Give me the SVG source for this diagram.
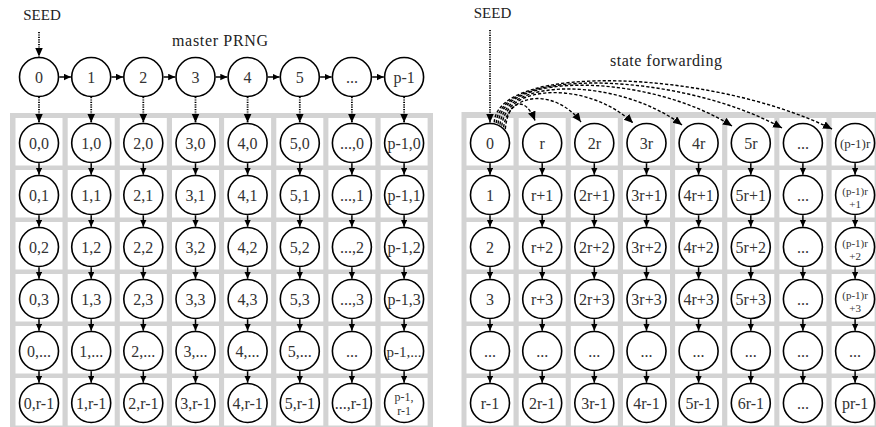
<svg xmlns="http://www.w3.org/2000/svg" width="876" height="427" viewBox="0 0 876 427">
<defs>
<style>
.bg{fill:#d3d3d3}
.cell{fill:#fff}
.n circle{fill:#fff;stroke:#000;stroke-width:1.6}
.n text,.lbl{font-family:"Liberation Serif","DejaVu Serif",serif;font-size:16px;fill:#333;text-anchor:middle}
.n text.s12{font-size:12px}
.n text.s13{font-size:13px}
.n text.s11{font-size:11px}
.lbl{fill:#222}
.sol{stroke:#000;stroke-width:1.5;fill:none;marker-end:url(#as)}
.dot{stroke:#000;stroke-width:1.8;fill:none;stroke-dasharray:1.2 1.2;marker-end:url(#ab)}
.dsh{stroke:#000;stroke-width:1.4;fill:none;stroke-dasharray:3.2 2;marker-end:url(#ab)}
</style>
<marker id="as" markerUnits="userSpaceOnUse" markerWidth="8" markerHeight="8" refX="7" refY="3.25" orient="auto"><path d="M0,0 L7,3.25 L0,6.5 z" fill="#000"/></marker>
<marker id="ab" markerUnits="userSpaceOnUse" markerWidth="10" markerHeight="10" refX="9" refY="4" orient="auto"><path d="M0,0 L9,4 L0,8 z" fill="#000"/></marker>
</defs>
<rect width="876" height="427" fill="#fff"/>
<g id="grids">
<rect class="bg" x="10" y="113" width="423" height="314"/>
<rect class="bg" x="461.5" y="112" width="414.5" height="315"/>
<g id="cellsL">
<rect class="cell" x="15.5" y="118" width="47" height="47.5"/><rect class="cell" x="67.7" y="118" width="47" height="47.5"/><rect class="cell" x="119.8" y="118" width="47" height="47.5"/><rect class="cell" x="172" y="118" width="47" height="47.5"/><rect class="cell" x="224.1" y="118" width="47" height="47.5"/><rect class="cell" x="276.3" y="118" width="47" height="47.5"/><rect class="cell" x="328.4" y="118" width="47" height="47.5"/><rect class="cell" x="380.6" y="118" width="47" height="47.5"/>
<rect class="cell" x="15.5" y="170" width="47" height="47.5"/><rect class="cell" x="67.7" y="170" width="47" height="47.5"/><rect class="cell" x="119.8" y="170" width="47" height="47.5"/><rect class="cell" x="172" y="170" width="47" height="47.5"/><rect class="cell" x="224.1" y="170" width="47" height="47.5"/><rect class="cell" x="276.3" y="170" width="47" height="47.5"/><rect class="cell" x="328.4" y="170" width="47" height="47.5"/><rect class="cell" x="380.6" y="170" width="47" height="47.5"/>
<rect class="cell" x="15.5" y="222" width="47" height="47.5"/><rect class="cell" x="67.7" y="222" width="47" height="47.5"/><rect class="cell" x="119.8" y="222" width="47" height="47.5"/><rect class="cell" x="172" y="222" width="47" height="47.5"/><rect class="cell" x="224.1" y="222" width="47" height="47.5"/><rect class="cell" x="276.3" y="222" width="47" height="47.5"/><rect class="cell" x="328.4" y="222" width="47" height="47.5"/><rect class="cell" x="380.6" y="222" width="47" height="47.5"/>
<rect class="cell" x="15.5" y="274" width="47" height="47.5"/><rect class="cell" x="67.7" y="274" width="47" height="47.5"/><rect class="cell" x="119.8" y="274" width="47" height="47.5"/><rect class="cell" x="172" y="274" width="47" height="47.5"/><rect class="cell" x="224.1" y="274" width="47" height="47.5"/><rect class="cell" x="276.3" y="274" width="47" height="47.5"/><rect class="cell" x="328.4" y="274" width="47" height="47.5"/><rect class="cell" x="380.6" y="274" width="47" height="47.5"/>
<rect class="cell" x="15.5" y="326" width="47" height="47.5"/><rect class="cell" x="67.7" y="326" width="47" height="47.5"/><rect class="cell" x="119.8" y="326" width="47" height="47.5"/><rect class="cell" x="172" y="326" width="47" height="47.5"/><rect class="cell" x="224.1" y="326" width="47" height="47.5"/><rect class="cell" x="276.3" y="326" width="47" height="47.5"/><rect class="cell" x="328.4" y="326" width="47" height="47.5"/><rect class="cell" x="380.6" y="326" width="47" height="47.5"/>
<rect class="cell" x="15.5" y="378" width="47" height="47.5"/><rect class="cell" x="67.7" y="378" width="47" height="47.5"/><rect class="cell" x="119.8" y="378" width="47" height="47.5"/><rect class="cell" x="172" y="378" width="47" height="47.5"/><rect class="cell" x="224.1" y="378" width="47" height="47.5"/><rect class="cell" x="276.3" y="378" width="47" height="47.5"/><rect class="cell" x="328.4" y="378" width="47" height="47.5"/><rect class="cell" x="380.6" y="378" width="47" height="47.5"/>
</g>
<g id="cellsR">
<rect class="cell" x="466.5" y="118" width="47" height="47.5"/><rect class="cell" x="518.7" y="118" width="47" height="47.5"/><rect class="cell" x="570.8" y="118" width="47" height="47.5"/><rect class="cell" x="623" y="118" width="47" height="47.5"/><rect class="cell" x="675.1" y="118" width="47" height="47.5"/><rect class="cell" x="727.3" y="118" width="47" height="47.5"/><rect class="cell" x="779.4" y="118" width="47" height="47.5"/><rect class="cell" x="831.6" y="118" width="43" height="47.5"/>
<rect class="cell" x="466.5" y="170" width="47" height="47.5"/><rect class="cell" x="518.7" y="170" width="47" height="47.5"/><rect class="cell" x="570.8" y="170" width="47" height="47.5"/><rect class="cell" x="623" y="170" width="47" height="47.5"/><rect class="cell" x="675.1" y="170" width="47" height="47.5"/><rect class="cell" x="727.3" y="170" width="47" height="47.5"/><rect class="cell" x="779.4" y="170" width="47" height="47.5"/><rect class="cell" x="831.6" y="170" width="43" height="47.5"/>
<rect class="cell" x="466.5" y="222" width="47" height="47.5"/><rect class="cell" x="518.7" y="222" width="47" height="47.5"/><rect class="cell" x="570.8" y="222" width="47" height="47.5"/><rect class="cell" x="623" y="222" width="47" height="47.5"/><rect class="cell" x="675.1" y="222" width="47" height="47.5"/><rect class="cell" x="727.3" y="222" width="47" height="47.5"/><rect class="cell" x="779.4" y="222" width="47" height="47.5"/><rect class="cell" x="831.6" y="222" width="43" height="47.5"/>
<rect class="cell" x="466.5" y="274" width="47" height="47.5"/><rect class="cell" x="518.7" y="274" width="47" height="47.5"/><rect class="cell" x="570.8" y="274" width="47" height="47.5"/><rect class="cell" x="623" y="274" width="47" height="47.5"/><rect class="cell" x="675.1" y="274" width="47" height="47.5"/><rect class="cell" x="727.3" y="274" width="47" height="47.5"/><rect class="cell" x="779.4" y="274" width="47" height="47.5"/><rect class="cell" x="831.6" y="274" width="43" height="47.5"/>
<rect class="cell" x="466.5" y="326" width="47" height="47.5"/><rect class="cell" x="518.7" y="326" width="47" height="47.5"/><rect class="cell" x="570.8" y="326" width="47" height="47.5"/><rect class="cell" x="623" y="326" width="47" height="47.5"/><rect class="cell" x="675.1" y="326" width="47" height="47.5"/><rect class="cell" x="727.3" y="326" width="47" height="47.5"/><rect class="cell" x="779.4" y="326" width="47" height="47.5"/><rect class="cell" x="831.6" y="326" width="43" height="47.5"/>
<rect class="cell" x="466.5" y="378" width="47" height="47.5"/><rect class="cell" x="518.7" y="378" width="47" height="47.5"/><rect class="cell" x="570.8" y="378" width="47" height="47.5"/><rect class="cell" x="623" y="378" width="47" height="47.5"/><rect class="cell" x="675.1" y="378" width="47" height="47.5"/><rect class="cell" x="727.3" y="378" width="47" height="47.5"/><rect class="cell" x="779.4" y="378" width="47" height="47.5"/><rect class="cell" x="831.6" y="378" width="43" height="47.5"/>
</g>
</g>
<g id="labels">
<text class="lbl" x="42" y="20" style="font-size:15px">SEED</text>
<text class="lbl" x="492.5" y="18" style="font-size:15px">SEED</text>
<text class="lbl" x="220" y="46" textLength="96" lengthAdjust="spacing">master PRNG</text>
<text class="lbl" x="666" y="66" textLength="112" lengthAdjust="spacing">state forwarding</text>
</g>
<g id="connectors">
<line class="dot" x1="39" y1="32" x2="39" y2="56.5"/>
<line class="dot" x1="490" y1="30" x2="490" y2="122.5"/>
<line class="sol" x1="59.3" y1="77" x2="70.9" y2="77"/><line class="sol" x1="111.5" y1="77" x2="123" y2="77"/><line class="sol" x1="163.6" y1="77" x2="175.2" y2="77"/><line class="sol" x1="215.8" y1="77" x2="227.3" y2="77"/><line class="sol" x1="267.9" y1="77" x2="279.5" y2="77"/><line class="sol" x1="320.1" y1="77" x2="331.6" y2="77"/><line class="sol" x1="372.2" y1="77" x2="383.8" y2="77"/>
<line class="dot" x1="39" y1="97" x2="39" y2="122.5"/><line class="dot" x1="91.2" y1="97" x2="91.2" y2="122.5"/><line class="dot" x1="143.3" y1="97" x2="143.3" y2="122.5"/><line class="dot" x1="195.5" y1="97" x2="195.5" y2="122.5"/><line class="dot" x1="247.6" y1="97" x2="247.6" y2="122.5"/><line class="dot" x1="299.8" y1="97" x2="299.8" y2="122.5"/><line class="dot" x1="351.9" y1="97" x2="351.9" y2="122.5"/><line class="dot" x1="404.1" y1="97" x2="404.1" y2="122.5"/>
<g id="vertL">
<line class="sol" x1="39" y1="163.3" x2="39" y2="174.7"/><line class="sol" x1="39" y1="215.3" x2="39" y2="226.7"/><line class="sol" x1="39" y1="267.3" x2="39" y2="278.7"/><line class="sol" x1="39" y1="319.3" x2="39" y2="330.7"/><line class="sol" x1="39" y1="371.3" x2="39" y2="382.7"/>
<line class="sol" x1="91.2" y1="163.3" x2="91.2" y2="174.7"/><line class="sol" x1="91.2" y1="215.3" x2="91.2" y2="226.7"/><line class="sol" x1="91.2" y1="267.3" x2="91.2" y2="278.7"/><line class="sol" x1="91.2" y1="319.3" x2="91.2" y2="330.7"/><line class="sol" x1="91.2" y1="371.3" x2="91.2" y2="382.7"/>
<line class="sol" x1="143.3" y1="163.3" x2="143.3" y2="174.7"/><line class="sol" x1="143.3" y1="215.3" x2="143.3" y2="226.7"/><line class="sol" x1="143.3" y1="267.3" x2="143.3" y2="278.7"/><line class="sol" x1="143.3" y1="319.3" x2="143.3" y2="330.7"/><line class="sol" x1="143.3" y1="371.3" x2="143.3" y2="382.7"/>
<line class="sol" x1="195.5" y1="163.3" x2="195.5" y2="174.7"/><line class="sol" x1="195.5" y1="215.3" x2="195.5" y2="226.7"/><line class="sol" x1="195.5" y1="267.3" x2="195.5" y2="278.7"/><line class="sol" x1="195.5" y1="319.3" x2="195.5" y2="330.7"/><line class="sol" x1="195.5" y1="371.3" x2="195.5" y2="382.7"/>
<line class="sol" x1="247.6" y1="163.3" x2="247.6" y2="174.7"/><line class="sol" x1="247.6" y1="215.3" x2="247.6" y2="226.7"/><line class="sol" x1="247.6" y1="267.3" x2="247.6" y2="278.7"/><line class="sol" x1="247.6" y1="319.3" x2="247.6" y2="330.7"/><line class="sol" x1="247.6" y1="371.3" x2="247.6" y2="382.7"/>
<line class="sol" x1="299.8" y1="163.3" x2="299.8" y2="174.7"/><line class="sol" x1="299.8" y1="215.3" x2="299.8" y2="226.7"/><line class="sol" x1="299.8" y1="267.3" x2="299.8" y2="278.7"/><line class="sol" x1="299.8" y1="319.3" x2="299.8" y2="330.7"/><line class="sol" x1="299.8" y1="371.3" x2="299.8" y2="382.7"/>
<line class="sol" x1="351.9" y1="163.3" x2="351.9" y2="174.7"/><line class="sol" x1="351.9" y1="215.3" x2="351.9" y2="226.7"/><line class="sol" x1="351.9" y1="267.3" x2="351.9" y2="278.7"/><line class="sol" x1="351.9" y1="319.3" x2="351.9" y2="330.7"/><line class="sol" x1="351.9" y1="371.3" x2="351.9" y2="382.7"/>
<line class="sol" x1="404.1" y1="163.3" x2="404.1" y2="174.7"/><line class="sol" x1="404.1" y1="215.3" x2="404.1" y2="226.7"/><line class="sol" x1="404.1" y1="267.3" x2="404.1" y2="278.7"/><line class="sol" x1="404.1" y1="319.3" x2="404.1" y2="330.7"/><line class="sol" x1="404.1" y1="371.3" x2="404.1" y2="382.7"/>
</g>
<g id="vertR">
<line class="sol" x1="490" y1="163.3" x2="490" y2="174.7"/><line class="sol" x1="490" y1="215.3" x2="490" y2="226.7"/><line class="sol" x1="490" y1="267.3" x2="490" y2="278.7"/><line class="sol" x1="490" y1="319.3" x2="490" y2="330.7"/><line class="sol" x1="490" y1="371.3" x2="490" y2="382.7"/>
<line class="sol" x1="542.2" y1="163.3" x2="542.2" y2="174.7"/><line class="sol" x1="542.2" y1="215.3" x2="542.2" y2="226.7"/><line class="sol" x1="542.2" y1="267.3" x2="542.2" y2="278.7"/><line class="sol" x1="542.2" y1="319.3" x2="542.2" y2="330.7"/><line class="sol" x1="542.2" y1="371.3" x2="542.2" y2="382.7"/>
<line class="sol" x1="594.3" y1="163.3" x2="594.3" y2="174.7"/><line class="sol" x1="594.3" y1="215.3" x2="594.3" y2="226.7"/><line class="sol" x1="594.3" y1="267.3" x2="594.3" y2="278.7"/><line class="sol" x1="594.3" y1="319.3" x2="594.3" y2="330.7"/><line class="sol" x1="594.3" y1="371.3" x2="594.3" y2="382.7"/>
<line class="sol" x1="646.5" y1="163.3" x2="646.5" y2="174.7"/><line class="sol" x1="646.5" y1="215.3" x2="646.5" y2="226.7"/><line class="sol" x1="646.5" y1="267.3" x2="646.5" y2="278.7"/><line class="sol" x1="646.5" y1="319.3" x2="646.5" y2="330.7"/><line class="sol" x1="646.5" y1="371.3" x2="646.5" y2="382.7"/>
<line class="sol" x1="698.6" y1="163.3" x2="698.6" y2="174.7"/><line class="sol" x1="698.6" y1="215.3" x2="698.6" y2="226.7"/><line class="sol" x1="698.6" y1="267.3" x2="698.6" y2="278.7"/><line class="sol" x1="698.6" y1="319.3" x2="698.6" y2="330.7"/><line class="sol" x1="698.6" y1="371.3" x2="698.6" y2="382.7"/>
<line class="sol" x1="750.8" y1="163.3" x2="750.8" y2="174.7"/><line class="sol" x1="750.8" y1="215.3" x2="750.8" y2="226.7"/><line class="sol" x1="750.8" y1="267.3" x2="750.8" y2="278.7"/><line class="sol" x1="750.8" y1="319.3" x2="750.8" y2="330.7"/><line class="sol" x1="750.8" y1="371.3" x2="750.8" y2="382.7"/>
<line class="sol" x1="802.9" y1="163.3" x2="802.9" y2="174.7"/><line class="sol" x1="802.9" y1="215.3" x2="802.9" y2="226.7"/><line class="sol" x1="802.9" y1="267.3" x2="802.9" y2="278.7"/><line class="sol" x1="802.9" y1="319.3" x2="802.9" y2="330.7"/><line class="sol" x1="802.9" y1="371.3" x2="802.9" y2="382.7"/>
<line class="sol" x1="855.1" y1="163.3" x2="855.1" y2="174.7"/><line class="sol" x1="855.1" y1="215.3" x2="855.1" y2="226.7"/><line class="sol" x1="855.1" y1="267.3" x2="855.1" y2="278.7"/><line class="sol" x1="855.1" y1="319.3" x2="855.1" y2="330.7"/><line class="sol" x1="855.1" y1="371.3" x2="855.1" y2="382.7"/>
</g>
<g id="forward">
<path class="dsh" d="M505.3,129.1 C508,100 525,95 535,120.5"/>
<path class="dsh" d="M503.6,127.4 C508,92 555,88 581,122"/>
<path class="dsh" d="M501.8,125.8 C506,82 590,82 633,123"/>
<path class="dsh" d="M500,124.7 C504,76 620,78 682,125"/>
<path class="dsh" d="M498.1,123.7 C502,70 650,74 732,126"/>
<path class="dsh" d="M496.2,123 C500,66 680,72 782,128"/>
<path class="dsh" d="M494.2,122.4 C498,62 712,70 832,129"/>
</g>
</g>
<g id="master">
<g id="m0" class="n"><circle cx="39" cy="77" r="19.5"/><text x="39" y="82.5">0</text></g>
<g id="m1" class="n"><circle cx="91.2" cy="77" r="19.5"/><text x="91.2" y="82.5">1</text></g>
<g id="m2" class="n"><circle cx="143.3" cy="77" r="19.5"/><text x="143.3" y="82.5">2</text></g>
<g id="m3" class="n"><circle cx="195.5" cy="77" r="19.5"/><text x="195.5" y="82.5">3</text></g>
<g id="m4" class="n"><circle cx="247.6" cy="77" r="19.5"/><text x="247.6" y="82.5">4</text></g>
<g id="m5" class="n"><circle cx="299.8" cy="77" r="19.5"/><text x="299.8" y="82.5">5</text></g>
<g id="m6" class="n"><circle cx="351.9" cy="77" r="19.5"/><text x="351.9" y="82.5">...</text></g>
<g id="m7" class="n"><circle cx="404.1" cy="77" r="19.5"/><text x="404.1" y="82.5">p-1</text></g>
</g>
<g id="left">
<g id="L0_0" class="n"><circle cx="39" cy="143" r="19.5"/><text x="39" y="148.5">0,0</text></g>
<g id="L1_0" class="n"><circle cx="91.2" cy="143" r="19.5"/><text x="91.2" y="148.5">1,0</text></g>
<g id="L2_0" class="n"><circle cx="143.3" cy="143" r="19.5"/><text x="143.3" y="148.5">2,0</text></g>
<g id="L3_0" class="n"><circle cx="195.5" cy="143" r="19.5"/><text x="195.5" y="148.5">3,0</text></g>
<g id="L4_0" class="n"><circle cx="247.6" cy="143" r="19.5"/><text x="247.6" y="148.5">4,0</text></g>
<g id="L5_0" class="n"><circle cx="299.8" cy="143" r="19.5"/><text x="299.8" y="148.5">5,0</text></g>
<g id="L6_0" class="n"><circle cx="351.9" cy="143" r="19.5"/><text x="351.9" y="148.5">...,0</text></g>
<g id="L7_0" class="n"><circle cx="404.1" cy="143" r="19.5"/><text x="404.1" y="148.5">p-1,0</text></g>
<g id="L0_1" class="n"><circle cx="39" cy="195" r="19.5"/><text x="39" y="200.5">0,1</text></g>
<g id="L1_1" class="n"><circle cx="91.2" cy="195" r="19.5"/><text x="91.2" y="200.5">1,1</text></g>
<g id="L2_1" class="n"><circle cx="143.3" cy="195" r="19.5"/><text x="143.3" y="200.5">2,1</text></g>
<g id="L3_1" class="n"><circle cx="195.5" cy="195" r="19.5"/><text x="195.5" y="200.5">3,1</text></g>
<g id="L4_1" class="n"><circle cx="247.6" cy="195" r="19.5"/><text x="247.6" y="200.5">4,1</text></g>
<g id="L5_1" class="n"><circle cx="299.8" cy="195" r="19.5"/><text x="299.8" y="200.5">5,1</text></g>
<g id="L6_1" class="n"><circle cx="351.9" cy="195" r="19.5"/><text x="351.9" y="200.5">...,1</text></g>
<g id="L7_1" class="n"><circle cx="404.1" cy="195" r="19.5"/><text x="404.1" y="200.5">p-1,1</text></g>
<g id="L0_2" class="n"><circle cx="39" cy="247" r="19.5"/><text x="39" y="252.5">0,2</text></g>
<g id="L1_2" class="n"><circle cx="91.2" cy="247" r="19.5"/><text x="91.2" y="252.5">1,2</text></g>
<g id="L2_2" class="n"><circle cx="143.3" cy="247" r="19.5"/><text x="143.3" y="252.5">2,2</text></g>
<g id="L3_2" class="n"><circle cx="195.5" cy="247" r="19.5"/><text x="195.5" y="252.5">3,2</text></g>
<g id="L4_2" class="n"><circle cx="247.6" cy="247" r="19.5"/><text x="247.6" y="252.5">4,2</text></g>
<g id="L5_2" class="n"><circle cx="299.8" cy="247" r="19.5"/><text x="299.8" y="252.5">5,2</text></g>
<g id="L6_2" class="n"><circle cx="351.9" cy="247" r="19.5"/><text x="351.9" y="252.5">...,2</text></g>
<g id="L7_2" class="n"><circle cx="404.1" cy="247" r="19.5"/><text x="404.1" y="252.5">p-1,2</text></g>
<g id="L0_3" class="n"><circle cx="39" cy="299" r="19.5"/><text x="39" y="304.5">0,3</text></g>
<g id="L1_3" class="n"><circle cx="91.2" cy="299" r="19.5"/><text x="91.2" y="304.5">1,3</text></g>
<g id="L2_3" class="n"><circle cx="143.3" cy="299" r="19.5"/><text x="143.3" y="304.5">2,3</text></g>
<g id="L3_3" class="n"><circle cx="195.5" cy="299" r="19.5"/><text x="195.5" y="304.5">3,3</text></g>
<g id="L4_3" class="n"><circle cx="247.6" cy="299" r="19.5"/><text x="247.6" y="304.5">4,3</text></g>
<g id="L5_3" class="n"><circle cx="299.8" cy="299" r="19.5"/><text x="299.8" y="304.5">5,3</text></g>
<g id="L6_3" class="n"><circle cx="351.9" cy="299" r="19.5"/><text x="351.9" y="304.5">...,3</text></g>
<g id="L7_3" class="n"><circle cx="404.1" cy="299" r="19.5"/><text x="404.1" y="304.5">p-1,3</text></g>
<g id="L0_4" class="n"><circle cx="39" cy="351" r="19.5"/><text x="39" y="356.5">0,...</text></g>
<g id="L1_4" class="n"><circle cx="91.2" cy="351" r="19.5"/><text x="91.2" y="356.5">1,...</text></g>
<g id="L2_4" class="n"><circle cx="143.3" cy="351" r="19.5"/><text x="143.3" y="356.5">2,...</text></g>
<g id="L3_4" class="n"><circle cx="195.5" cy="351" r="19.5"/><text x="195.5" y="356.5">3,...</text></g>
<g id="L4_4" class="n"><circle cx="247.6" cy="351" r="19.5"/><text x="247.6" y="356.5">4,...</text></g>
<g id="L5_4" class="n"><circle cx="299.8" cy="351" r="19.5"/><text x="299.8" y="356.5">5,...</text></g>
<g id="L6_4" class="n"><circle cx="351.9" cy="351" r="19.5"/><text x="351.9" y="356.5">...</text></g>
<g id="L7_4" class="n"><circle cx="404.1" cy="351" r="19.5"/><text x="404.1" y="356.5" style="font-size:15px">p-1,...</text></g>
<g id="L0_5" class="n"><circle cx="39" cy="403" r="19.5"/><text x="39" y="408.5">0,r-1</text></g>
<g id="L1_5" class="n"><circle cx="91.2" cy="403" r="19.5"/><text x="91.2" y="408.5">1,r-1</text></g>
<g id="L2_5" class="n"><circle cx="143.3" cy="403" r="19.5"/><text x="143.3" y="408.5">2,r-1</text></g>
<g id="L3_5" class="n"><circle cx="195.5" cy="403" r="19.5"/><text x="195.5" y="408.5">3,r-1</text></g>
<g id="L4_5" class="n"><circle cx="247.6" cy="403" r="19.5"/><text x="247.6" y="408.5">4,r-1</text></g>
<g id="L5_5" class="n"><circle cx="299.8" cy="403" r="19.5"/><text x="299.8" y="408.5">5,r-1</text></g>
<g id="L6_5" class="n"><circle cx="351.9" cy="403" r="19.5"/><text x="351.9" y="408.5">...,r-1</text></g>
<g id="L7_5" class="n"><circle cx="404.1" cy="403" r="19.5"/><text class="s12" x="404.1" y="400.5">p-1,</text><text class="s12" x="404.1" y="414.5">r-1</text></g>
</g>
<g id="right">
<g id="R0_0" class="n"><circle cx="490" cy="143" r="19.5"/><text x="490" y="148.5">0</text></g>
<g id="R1_0" class="n"><circle cx="542.2" cy="143" r="19.5"/><text x="542.2" y="148.5">r</text></g>
<g id="R2_0" class="n"><circle cx="594.3" cy="143" r="19.5"/><text x="594.3" y="148.5">2r</text></g>
<g id="R3_0" class="n"><circle cx="646.5" cy="143" r="19.5"/><text x="646.5" y="148.5">3r</text></g>
<g id="R4_0" class="n"><circle cx="698.6" cy="143" r="19.5"/><text x="698.6" y="148.5">4r</text></g>
<g id="R5_0" class="n"><circle cx="750.8" cy="143" r="19.5"/><text x="750.8" y="148.5">5r</text></g>
<g id="R6_0" class="n"><circle cx="802.9" cy="143" r="19.5"/><text x="802.9" y="148.5">...</text></g>
<g id="R7_0" class="n"><circle cx="855.1" cy="143" r="19.5"/><text class="s13" x="855.1" y="147.5">(p-1)r</text></g>
<g id="R0_1" class="n"><circle cx="490" cy="195" r="19.5"/><text x="490" y="200.5">1</text></g>
<g id="R1_1" class="n"><circle cx="542.2" cy="195" r="19.5"/><text x="542.2" y="200.5">r+1</text></g>
<g id="R2_1" class="n"><circle cx="594.3" cy="195" r="19.5"/><text x="594.3" y="200.5">2r+1</text></g>
<g id="R3_1" class="n"><circle cx="646.5" cy="195" r="19.5"/><text x="646.5" y="200.5">3r+1</text></g>
<g id="R4_1" class="n"><circle cx="698.6" cy="195" r="19.5"/><text x="698.6" y="200.5">4r+1</text></g>
<g id="R5_1" class="n"><circle cx="750.8" cy="195" r="19.5"/><text x="750.8" y="200.5">5r+1</text></g>
<g id="R6_1" class="n"><circle cx="802.9" cy="195" r="19.5"/><text x="802.9" y="200.5">...</text></g>
<g id="R7_1" class="n"><circle cx="855.1" cy="195" r="19.5"/><text class="s11" x="855.1" y="195">(p-1)r</text><text class="s11" x="855.1" y="208">+1</text></g>
<g id="R0_2" class="n"><circle cx="490" cy="247" r="19.5"/><text x="490" y="252.5">2</text></g>
<g id="R1_2" class="n"><circle cx="542.2" cy="247" r="19.5"/><text x="542.2" y="252.5">r+2</text></g>
<g id="R2_2" class="n"><circle cx="594.3" cy="247" r="19.5"/><text x="594.3" y="252.5">2r+2</text></g>
<g id="R3_2" class="n"><circle cx="646.5" cy="247" r="19.5"/><text x="646.5" y="252.5">3r+2</text></g>
<g id="R4_2" class="n"><circle cx="698.6" cy="247" r="19.5"/><text x="698.6" y="252.5">4r+2</text></g>
<g id="R5_2" class="n"><circle cx="750.8" cy="247" r="19.5"/><text x="750.8" y="252.5">5r+2</text></g>
<g id="R6_2" class="n"><circle cx="802.9" cy="247" r="19.5"/><text x="802.9" y="252.5">...</text></g>
<g id="R7_2" class="n"><circle cx="855.1" cy="247" r="19.5"/><text class="s11" x="855.1" y="247">(p-1)r</text><text class="s11" x="855.1" y="260">+2</text></g>
<g id="R0_3" class="n"><circle cx="490" cy="299" r="19.5"/><text x="490" y="304.5">3</text></g>
<g id="R1_3" class="n"><circle cx="542.2" cy="299" r="19.5"/><text x="542.2" y="304.5">r+3</text></g>
<g id="R2_3" class="n"><circle cx="594.3" cy="299" r="19.5"/><text x="594.3" y="304.5">2r+3</text></g>
<g id="R3_3" class="n"><circle cx="646.5" cy="299" r="19.5"/><text x="646.5" y="304.5">3r+3</text></g>
<g id="R4_3" class="n"><circle cx="698.6" cy="299" r="19.5"/><text x="698.6" y="304.5">4r+3</text></g>
<g id="R5_3" class="n"><circle cx="750.8" cy="299" r="19.5"/><text x="750.8" y="304.5">5r+3</text></g>
<g id="R6_3" class="n"><circle cx="802.9" cy="299" r="19.5"/><text x="802.9" y="304.5">...</text></g>
<g id="R7_3" class="n"><circle cx="855.1" cy="299" r="19.5"/><text class="s11" x="855.1" y="299">(p-1)r</text><text class="s11" x="855.1" y="312">+3</text></g>
<g id="R0_4" class="n"><circle cx="490" cy="351" r="19.5"/><text x="490" y="356.5">...</text></g>
<g id="R1_4" class="n"><circle cx="542.2" cy="351" r="19.5"/><text x="542.2" y="356.5">...</text></g>
<g id="R2_4" class="n"><circle cx="594.3" cy="351" r="19.5"/><text x="594.3" y="356.5">...</text></g>
<g id="R3_4" class="n"><circle cx="646.5" cy="351" r="19.5"/><text x="646.5" y="356.5">...</text></g>
<g id="R4_4" class="n"><circle cx="698.6" cy="351" r="19.5"/><text x="698.6" y="356.5">...</text></g>
<g id="R5_4" class="n"><circle cx="750.8" cy="351" r="19.5"/><text x="750.8" y="356.5">...</text></g>
<g id="R6_4" class="n"><circle cx="802.9" cy="351" r="19.5"/><text x="802.9" y="356.5">...</text></g>
<g id="R7_4" class="n"><circle cx="855.1" cy="351" r="19.5"/><text x="855.1" y="356.5">...</text></g>
<g id="R0_5" class="n"><circle cx="490" cy="403" r="19.5"/><text x="490" y="408.5">r-1</text></g>
<g id="R1_5" class="n"><circle cx="542.2" cy="403" r="19.5"/><text x="542.2" y="408.5">2r-1</text></g>
<g id="R2_5" class="n"><circle cx="594.3" cy="403" r="19.5"/><text x="594.3" y="408.5">3r-1</text></g>
<g id="R3_5" class="n"><circle cx="646.5" cy="403" r="19.5"/><text x="646.5" y="408.5">4r-1</text></g>
<g id="R4_5" class="n"><circle cx="698.6" cy="403" r="19.5"/><text x="698.6" y="408.5">5r-1</text></g>
<g id="R5_5" class="n"><circle cx="750.8" cy="403" r="19.5"/><text x="750.8" y="408.5">6r-1</text></g>
<g id="R6_5" class="n"><circle cx="802.9" cy="403" r="19.5"/><text x="802.9" y="408.5">...</text></g>
<g id="R7_5" class="n"><circle cx="855.1" cy="403" r="19.5"/><text x="855.1" y="408.5">pr-1</text></g>
</g>
</svg>
